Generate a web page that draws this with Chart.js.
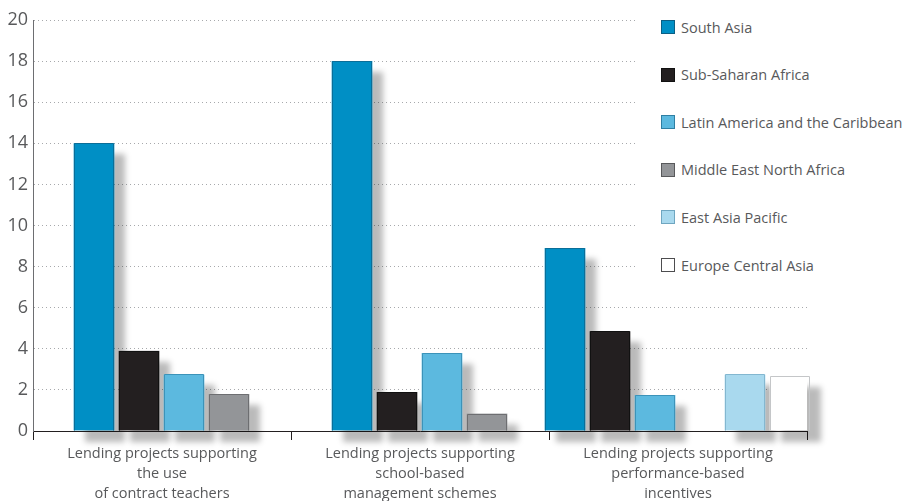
<!DOCTYPE html>
<html>
<head>
<meta charset="utf-8">
<title>Lending projects by region</title>
<script src="https://cdn.jsdelivr.net/npm/chart.js@4.4.1/dist/chart.umd.min.js"></script>
<style>
  html, body { margin: 0; padding: 0; background: #fff; }
  #wrap { position: relative; width: 906px; height: 501px; overflow: hidden; }
  #legend {
    position: absolute; left: 638px; top: 0; width: 268px; height: 288px;
    background: #fff; font-family: 'Open Sans', sans-serif; font-size: 14.5px; color: #58595b;
  }
  .item { position: absolute; left: 23px; height: 20px; display: flex; align-items: center; white-space: nowrap; }
  .box { width: 14px; height: 14px; box-sizing: border-box; border: 1px solid #333; margin-right: 6px; }
</style>
</head>
<body>
<div id="wrap">
  <canvas id="chart" width="906" height="501"></canvas>
  <div id="legend"></div>
</div>
<script>
// data
const categories = [
  ['Lending projects supporting', 'the use', 'of contract teachers'],
  ['Lending projects supporting', 'school-based', 'management schemes'],
  ['Lending projects supporting', 'performance-based', 'incentives']
];
const regions = ['South Asia', 'Sub-Saharan Africa', 'Latin America and the Caribbean',
  'Middle East North Africa', 'East Asia Pacific', 'Europe Central Asia'];
const southAsia = [14, 18, 8.9];
const subSaharanAfrica = [3.9, 1.9, 4.85];
const latinAmerica = [2.75, 3.8, 1.75];
const middleEastNorthAfrica = [1.8, 0.85, 0];
const eastAsiaPacific = [null, null, 2.75];
const europeCentralAsia = [null, null, 2.7];
const yTicks = [0, 2, 4, 6, 8, 10, 12, 14, 16, 18, 20];

// styles
const fills = ['#008fc5', '#231f20', '#5cb9df', '#939598', '#a9d9ee', '#ffffff'];
const edges = ['#0b6e98', '#111111', '#3c93b9', '#6d6e71', '#83b7d0', '#c4c6c8'];
const legendEdges = ['#0b5f84', '#111111', '#2f7fa3', '#58595b', '#6fa6c0', '#4d4d4f'];
const FONT = "'Open Sans', sans-serif";
const TEXT = '#58595b';
const SLOT = 45, GAP_L = 2, GAP_R = 3;   // bar pitch and white gap between bars
const SHADOW_DX = 11, SHADOW_DY = 11;

const series = [southAsia, subSaharanAfrica, latinAmerica, middleEastNorthAfrica, eastAsiaPacific, europeCentralAsia];

function innerRect(bar) {
  const p = bar.getProps(['x', 'y', 'base', 'width'], true);
  const left = Math.round(p.x - p.width / 2 + GAP_L);
  const w = Math.round(p.width - GAP_L - GAP_R);
  return { x: left, y: Math.min(p.y, p.base), w: w, h: Math.abs(p.base - p.y), base: p.base };
}

// soft grey drop shadow behind each bar, and a thin darker edge on top of it
const barDecor = {
  id: 'barDecor',
  beforeDatasetsDraw(chart) {
    const ctx = chart.ctx;
    chart.data.datasets.forEach((ds, i) => {
      chart.getDatasetMeta(i).data.forEach((bar, j) => {
        if (!ds.data[j]) return;
        const r = innerRect(bar);
        ctx.save();
        ctx.shadowColor = 'rgba(0,0,0,0.27)';
        ctx.shadowBlur = 6;
        ctx.shadowOffsetX = SHADOW_DX + 3000;
        ctx.shadowOffsetY = SHADOW_DY;
        ctx.fillStyle = '#000';
        ctx.fillRect(r.x - 3000, r.y, r.w, r.h);
        ctx.restore();
      });
    });
  },
  afterDatasetsDraw(chart) {
    const ctx = chart.ctx;
    chart.data.datasets.forEach((ds, i) => {
      chart.getDatasetMeta(i).data.forEach((bar, j) => {
        if (!ds.data[j]) return;
        const r = innerRect(bar);
        const top = Math.round(r.y) + 0.5;
        ctx.save();
        ctx.strokeStyle = edges[i];
        ctx.lineWidth = 1;
        ctx.beginPath();
        ctx.moveTo(r.x + 0.5, r.base);
        ctx.lineTo(r.x + 0.5, top);
        ctx.lineTo(r.x + r.w - 0.5, top);
        ctx.lineTo(r.x + r.w - 0.5, r.base);
        ctx.stroke();
        ctx.restore();
      });
    });
  }
};

const chart = new Chart(document.getElementById('chart'), {
  type: 'bar',
  data: {
    labels: categories,
    datasets: series.map((values, i) => ({
      label: regions[i],
      data: values,
      backgroundColor: fills[i]
    }))
  },
  options: {
    responsive: false,
    animation: false,
    devicePixelRatio: 1,
    layout: { padding: { top: 20, right: 99, left: 0, bottom: 0 } },
    datasets: {
      bar: {
        skipNull: true,
        barThickness: SLOT,
        borderWidth: { left: GAP_L, right: GAP_R, top: 0, bottom: 0 },
        borderColor: 'rgba(0,0,0,0)',
        borderSkipped: false
      }
    },
    plugins: {
      legend: { display: false },
      tooltip: { enabled: false }
    },
    scales: {
      x: {
        grid: { drawOnChartArea: false, drawTicks: true, tickLength: 9, tickColor: '#231f20', offset: true },
        border: { color: '#231f20' },
        ticks: {
          color: TEXT, padding: 4, maxRotation: 0, autoSkip: false,
          font: { family: FONT, size: 14.5, lineHeight: 1.37 }
        },
        afterFit: s => { s.height = 70; }
      },
      y: {
        min: 0,
        max: 20,
        afterBuildTicks: s => { s.ticks = yTicks.map(v => ({ value: v })); },
        border: { color: '#6d6e71', dash: [1, 3] },
        grid: {
          color: c => (c.tick && c.tick.value === 0) ? 'rgba(0,0,0,0)' : '#a7a9ac',
          drawTicks: false
        },
        ticks: { color: TEXT, padding: 5, font: { family: FONT, size: 18 } },
        afterFit: s => { s.width = 33; }
      }
    }
  },
  plugins: [barDecor]
});

// legend overlay on the right, white background hides the gridlines under it
const legend = document.getElementById('legend');
chart.data.datasets.forEach((ds, i) => {
  const item = document.createElement('div');
  item.className = 'item';
  item.style.top = (27 + i * 47.6 - 10) + 'px';
  const box = document.createElement('span');
  box.className = 'box';
  box.style.background = ds.backgroundColor;
  box.style.borderColor = legendEdges[i];
  const label = document.createElement('span');
  label.textContent = ds.label;
  item.appendChild(box);
  item.appendChild(label);
  legend.appendChild(item);
});
</script>
</body>
</html>
